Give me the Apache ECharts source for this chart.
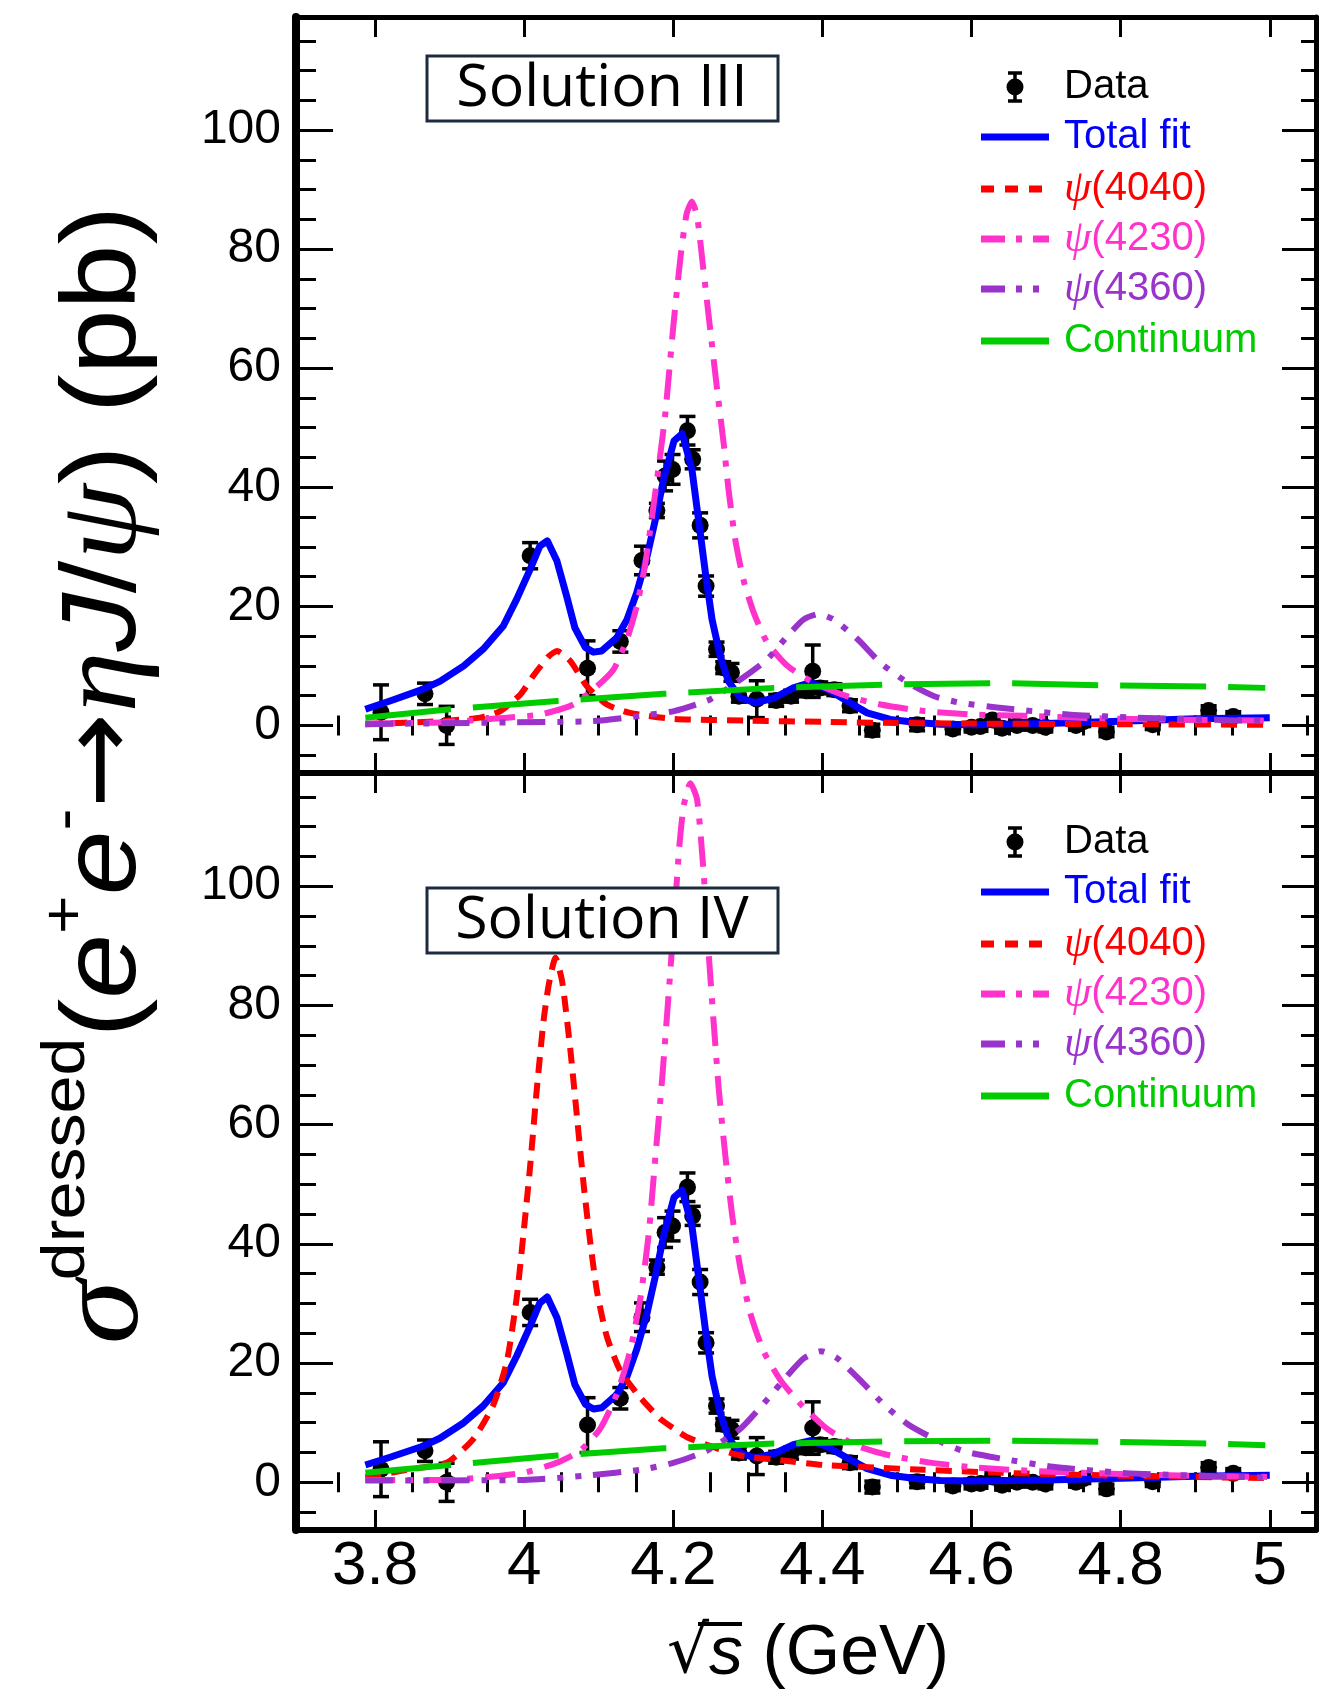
<!DOCTYPE html>
<html><head><meta charset="utf-8">
<script src="https://cdn.jsdelivr.net/npm/echarts@6/dist/echarts.min.js"></script>
<style>html,body{margin:0;padding:0;background:#fff}#c{width:1326px;height:1695px}</style>
</head><body><div id="c"></div>
<script>
// ---------- data ----------
const xMajorTicks = [3.8, 4.0, 4.2, 4.4, 4.6, 4.8, 5.0];
const xMinorTicks = [3.75, 3.85, 3.9, 3.95, 4.05, 4.1, 4.15, 4.25, 4.3, 4.35, 4.45, 4.5, 4.55, 4.65, 4.7, 4.75, 4.85, 4.9, 4.95, 5.05];
const yMajorTicks = [0, 20, 40, 60, 80, 100];
const yMinorTicks = [-5, 5, 10, 15, 25, 30, 35, 45, 50, 55, 65, 70, 75, 85, 90, 95, 105, 110, 115];

const dataX   = [3.808, 3.867, 3.896, 4.008, 4.085, 4.129, 4.158, 4.178, 4.189, 4.199, 4.219, 4.226, 4.236, 4.244, 4.258, 4.267, 4.278, 4.288, 4.312, 4.338, 4.358, 4.378, 4.387, 4.397, 4.416, 4.437, 4.467, 4.527, 4.575, 4.600, 4.612, 4.628, 4.641, 4.661, 4.682, 4.699, 4.740, 4.750, 4.781, 4.843, 4.918, 4.951];
const dataY   = [2.2, 5.3, 0.0, 28.5, 9.6, 14.1, 27.7, 36.1, 41.9, 43.0, 49.5, 44.7, 33.6, 23.4, 12.8, 9.7, 8.9, 4.9, 4.4, 4.2, 4.9, 5.8, 9.1, 6.3, 6.0, 3.3, -0.8, 0.1, -0.6, -0.3, -0.2, 0.9, -0.5, 0.0, 0.0, -0.3, 0.0, 0.6, -1.1, 0.1, 2.5, 1.5];
const dataErr = [4.6, 1.8, 3.2, 2.2, 4.6, 1.8, 2.4, 1.2, 2.5, 2.5, 2.4, 1.6, 2.1, 1.7, 1.2, 1.0, 1.5, 1.0, 3.1, 1.0, 1.0, 1.0, 4.4, 1.0, 1.0, 1.0, 1.0, 1.0, 0.8, 0.8, 0.8, 0.8, 0.8, 0.8, 0.8, 0.8, 0.8, 0.8, 0.8, 0.8, 0.8, 0.8];

// Solution III (top panel)
const fitTop = [[3.787,2.7],[3.820,4.1],[3.863,6.0],[3.887,7.4],[3.919,10.0],[3.945,12.8],[3.972,16.7],[3.990,21.2],[4.008,26.2],[4.021,30.1],[4.031,31.0],[4.044,27.6],[4.057,21.7],[4.068,16.4],[4.082,13.1],[4.093,12.3],[4.104,12.5],[4.124,14.7],[4.138,17.8],[4.151,22.3],[4.165,28.5],[4.176,34.6],[4.187,41.3],[4.201,47.8],[4.212,49.0],[4.225,43.0],[4.234,34.4],[4.243,25.7],[4.252,17.8],[4.263,11.6],[4.274,7.4],[4.290,4.6],[4.310,3.8],[4.335,4.6],[4.361,6.3],[4.384,7.2],[4.406,6.1],[4.433,4.1],[4.460,2.1],[4.491,1.0],[4.527,0.5],[4.558,0.2],[4.603,0.1],[4.700,0.3],[4.800,0.7],[4.900,1.1],[5.000,1.3]];
const psi4040Top = [[3.787,0.2],[3.887,0.7],[3.941,1.3],[3.968,2.4],[3.995,5.2],[4.012,8.3],[4.033,11.6],[4.044,12.5],[4.062,10.8],[4.084,6.6],[4.111,3.5],[4.142,2.1],[4.200,1.1],[4.300,0.8],[4.400,0.6],[4.500,0.4],[4.600,0.3],[4.800,0.2],[5.000,0.1]];
const psi4230Top = [[3.787,0.3],[3.887,0.5],[3.977,1.3],[4.021,1.8],[4.066,3.5],[4.098,6.6],[4.120,9.4],[4.138,14.5],[4.151,20.0],[4.162,26.8],[4.171,34.6],[4.180,43.0],[4.189,52.0],[4.200,67.0],[4.210,79.0],[4.218,86.0],[4.225,88.0],[4.232,85.5],[4.240,77.0],[4.250,66.0],[4.259,56.2],[4.268,46.9],[4.274,39.7],[4.283,31.3],[4.294,24.5],[4.308,18.9],[4.326,13.9],[4.353,10.0],[4.388,7.2],[4.433,4.9],[4.478,3.5],[4.536,2.4],[4.603,1.8],[4.670,1.6],[4.795,1.1],[4.992,0.8]];
const psi4360Top = [[3.787,0.2],[3.977,0.5],[4.090,0.7],[4.156,1.6],[4.201,2.4],[4.250,4.4],[4.290,7.7],[4.326,11.1],[4.353,15.0],[4.375,17.8],[4.395,18.7],[4.415,17.8],[4.447,14.5],[4.478,10.5],[4.514,7.2],[4.550,4.9],[4.585,3.8],[4.634,3.0],[4.733,1.8],[4.822,1.3],[4.992,0.7]];
const contTop = [[3.787,1.3],[3.901,2.7],[4.044,4.1],[4.187,5.3],[4.335,6.3],[4.499,6.9],[4.639,7.1],[4.786,6.7],[4.929,6.5],[4.994,6.3]];

// Solution IV (bottom panel)
const fitBot = [[3.787,2.9],[3.820,4.2],[3.863,6.0],[3.887,7.4],[3.919,10.0],[3.945,12.8],[3.972,16.7],[3.990,21.2],[4.008,26.2],[4.021,30.1],[4.031,31.1],[4.044,27.6],[4.057,21.7],[4.068,16.4],[4.082,13.1],[4.093,12.3],[4.104,12.5],[4.124,14.7],[4.138,17.8],[4.151,22.3],[4.165,28.5],[4.176,34.6],[4.187,41.3],[4.201,47.8],[4.212,49.0],[4.225,43.0],[4.234,34.4],[4.243,25.7],[4.252,17.8],[4.263,11.6],[4.274,7.4],[4.290,4.9],[4.310,4.1],[4.335,4.8],[4.361,6.3],[4.384,7.0],[4.406,6.0],[4.433,4.1],[4.460,2.3],[4.491,1.2],[4.527,0.6],[4.558,0.3],[4.603,0.2],[4.700,0.4],[4.800,0.7],[4.900,1.0],[5.000,1.2]];
const psi4040Bot = [[3.787,0.8],[3.843,2.1],[3.896,3.3],[3.932,7.3],[3.959,13.1],[3.977,20.4],[3.990,31.0],[3.999,41.6],[4.008,53.0],[4.017,66.0],[4.026,77.4],[4.033,83.5],[4.042,88.0],[4.051,84.0],[4.062,72.5],[4.071,61.1],[4.080,49.7],[4.089,39.9],[4.098,31.8],[4.111,24.4],[4.129,18.7],[4.156,14.2],[4.183,10.6],[4.201,9.0],[4.218,7.6],[4.245,6.3],[4.290,4.5],[4.344,3.7],[4.402,2.9],[4.469,2.5],[4.536,2.1],[4.639,1.6],[4.800,1.1],[5.000,0.7]];
const psi4230Bot = [[3.787,0.4],[3.896,0.4],[3.999,1.6],[4.044,3.3],[4.075,5.3],[4.102,9.0],[4.124,14.7],[4.142,22.0],[4.156,31.0],[4.167,41.6],[4.176,54.6],[4.185,67.6],[4.194,82.3],[4.203,97.7],[4.208,106.5],[4.214,113.5],[4.223,117.3],[4.232,114.5],[4.241,101.8],[4.247,89.6],[4.254,77.4],[4.261,66.0],[4.270,54.6],[4.279,44.8],[4.290,35.9],[4.303,28.5],[4.321,22.0],[4.344,17.1],[4.371,13.1],[4.406,9.0],[4.447,6.1],[4.491,4.5],[4.545,3.3],[4.603,2.5],[4.700,1.8],[4.800,1.4],[4.900,1.1],[5.000,0.9]];
const psi4360Bot = [[3.787,0.3],[4.000,0.4],[4.089,1.2],[4.156,2.1],[4.201,3.3],[4.245,5.3],[4.290,9.0],[4.326,13.9],[4.353,17.9],[4.375,20.8],[4.398,22.0],[4.420,20.8],[4.451,17.1],[4.482,13.1],[4.514,9.8],[4.550,7.3],[4.590,5.2],[4.639,4.0],[4.709,2.6],[4.813,1.5],[4.993,0.8]];
const contBot = [[3.787,1.6],[3.901,2.9],[4.044,4.5],[4.187,5.7],[4.335,6.5],[4.499,6.9],[4.639,7.0],[4.786,6.8],[4.929,6.5],[4.994,6.2]];

const legendNames = ['Data', 'Total fit', 'ψ(4040)', 'ψ(4230)', 'ψ(4360)', 'Continuum'];
const panelLabels = ['Solution III', 'Solution IV'];

// ---------- styles ----------
const X_MIN = 3.694, X_MAX = 5.062, Y_MIN = -8, Y_MAX = 119;
const C = { fit: '#0000ff', r: '#ff0000', m: '#ff33cc', p: '#9933cc', g: '#00cc00' };
const DASH = { r: [16, 10], m: [30, 12, 6, 12], p: [28, 12, 6, 12, 6, 12], g: [86, 22] };
const GRIDS = [
  { left: 296, top: 17, width: 1020, height: 756 },
  { left: 296, top: 773, width: 1020, height: 757 }
];
const LBL_FONT = "'Liberation Sans', Arial, sans-serif";

function xAxes(g, labels) {
  const base = { type: 'value', gridIndex: g, min: X_MIN, max: X_MAX, splitLine: { show: false } };
  const tk = (len, vals) => ({ show: true, inside: true, length: len, customValues: vals, lineStyle: { color: '#000', width: 3 } });
  return [
    Object.assign({}, base, { position: 'bottom', axisLine: { show: true, onZero: false, lineStyle: { color: '#000', width: 6 } }, axisTick: tk(20, xMajorTicks),
      axisLabel: { show: labels, customValues: xMajorTicks, formatter: v => String(+(+v).toFixed(1)), fontSize: 62, fontFamily: LBL_FONT, color: '#000', margin: 6 } }),
    Object.assign({}, base, { position: 'bottom', axisLine: { show: false }, axisTick: tk(10, xMinorTicks), axisLabel: { show: false } }),
    Object.assign({}, base, { position: 'top', axisLine: { show: true, onZero: false, lineStyle: { color: '#000', width: 5 } }, axisTick: tk(20, xMajorTicks), axisLabel: { show: false } }),
    Object.assign({}, base, { position: 'top', axisLine: { show: false }, axisTick: tk(10, xMinorTicks), axisLabel: { show: false } })
  ];
}
function yAxes(g) {
  const base = { type: 'value', gridIndex: g, min: Y_MIN, max: Y_MAX, splitLine: { show: false } };
  const tk = (len, vals) => ({ show: true, inside: true, length: len, customValues: vals, lineStyle: { color: '#000', width: 3 } });
  return [
    Object.assign({}, base, { position: 'left', axisLine: { show: true, onZero: false, lineStyle: { color: '#000', width: 8 } }, axisTick: tk(37, yMajorTicks),
      axisLabel: { show: true, customValues: yMajorTicks, fontSize: 48, fontFamily: LBL_FONT, color: '#000', margin: 15 } }),
    Object.assign({}, base, { position: 'left', axisLine: { show: false }, axisTick: tk(20, yMinorTicks), axisLabel: { show: false } }),
    Object.assign({}, base, { position: 'right', axisLine: { show: true, onZero: false, lineStyle: { color: '#000', width: 5 } }, axisTick: tk(34, yMajorTicks), axisLabel: { show: false } }),
    Object.assign({}, base, { position: 'right', axisLine: { show: false }, axisTick: tk(15, yMinorTicks), axisLabel: { show: false } })
  ];
}

function renderErr(params, api) {
  const x = api.value(0), y = api.value(1), e = api.value(2);
  const c = api.coord([x, y]), t = api.coord([x, y + e]), b = api.coord([x, y - e]);
  const cap = 8, st = { stroke: '#000', lineWidth: 3.5 };
  return { type: 'group', children: [
    { type: 'line', shape: { x1: c[0], y1: t[1], x2: c[0], y2: b[1] }, style: st },
    { type: 'line', shape: { x1: c[0] - cap, y1: t[1], x2: c[0] + cap, y2: t[1] }, style: st },
    { type: 'line', shape: { x1: c[0] - cap, y1: b[1], x2: c[0] + cap, y2: b[1] }, style: st },
    { type: 'circle', shape: { cx: c[0], cy: c[1], r: 8.5 }, style: { fill: '#000' } }
  ] };
}

function panelSeries(p, fit, r, m, pu, g) {
  const ax = { xAxisIndex: p * 4, yAxisIndex: p * 4 };
  const line = (data, color, width, type, z, smooth) => Object.assign({
    type: 'line', data, showSymbol: false, symbol: 'none', smooth: smooth, clip: true, z,
    lineStyle: { color, width, type, cap: 'butt', join: 'round' }, silent: true
  }, ax);
  return [
    Object.assign({ type: 'custom', renderItem: renderErr, data: dataX.map((x, i) => [x, dataY[i], dataErr[i]]), encode: { x: 0, y: 1 }, z: 2, clip: true }, ax),
    line(fit, C.fit, 7, 'solid', 3, false),
    line(r, C.r, 6, DASH.r, 4, 0.2),
    line(m, C.m, 6, DASH.m, 5, 0.2),
    line(pu, C.p, 6, DASH.p, 6, 0.2),
    line(g, C.g, 6, DASH.g, 7, false)
  ];
}

// ---------- graphics (legend, labels, titles) ----------
const LEG_FONT = "'Liberation Sans', Arial, sans-serif";
function legendGraphics(dy) {
  const ys = [87, 137, 189, 239, 289, 341].map(v => v + dy);
  const x1 = 981, x2 = 1049, tx = 1064, mx = 1015;
  const els = [];
  els.push({ type: 'line', shape: { x1: mx, y1: ys[0] - 14, x2: mx, y2: ys[0] + 14 }, style: { stroke: '#000', lineWidth: 3.5 } });
  els.push({ type: 'line', shape: { x1: mx - 7, y1: ys[0] - 14, x2: mx + 7, y2: ys[0] - 14 }, style: { stroke: '#000', lineWidth: 3.5 } });
  els.push({ type: 'line', shape: { x1: mx - 7, y1: ys[0] + 14, x2: mx + 7, y2: ys[0] + 14 }, style: { stroke: '#000', lineWidth: 3.5 } });
  els.push({ type: 'circle', shape: { cx: mx, cy: ys[0], r: 8.5 }, style: { fill: '#000' } });
  const lines = [[C.fit, null], [C.r, [13, 11]], [C.m, [24, 11, 6, 11]], [C.p, [24, 11, 6, 11, 6, 11]], [C.g, null]];
  lines.forEach((l, i) => {
    els.push({ type: 'line', shape: { x1, y1: ys[i + 1], x2, y2: ys[i + 1] }, style: { stroke: l[0], lineWidth: 7, lineDash: l[1] || null } });
  });
  const cols = ['#000', C.fit, C.r, C.m, C.p, C.g];
  legendNames.forEach((n, i) => {
    let text = n, rich = {};
    if (n.startsWith('ψ')) {
      text = '{g|ψ}{t|' + n.slice(1) + '}';
      rich = { g: { fontFamily: "'Liberation Serif', serif", fontStyle: 'italic', fontSize: 44, fill: cols[i] }, t: { fontFamily: LEG_FONT, fontSize: 40, fill: cols[i] } };
    }
    els.push({ type: 'text', x: tx, y: ys[i], style: { text, rich, fill: cols[i], fontFamily: LEG_FONT, fontSize: 40, align: 'left', verticalAlign: 'middle' } });
  });
  return els;
}
function boxGraphics(y, label) {
  return [
    { type: 'rect', shape: { x: 427, y: y, width: 351, height: 65 }, style: { fill: '#fff', stroke: '#1d2b3e', lineWidth: 3 }, z: 50 },
    { type: 'text', x: 602, y: y + 33, style: { text: label, fontFamily: "'Open Sans', sans-serif", fontSize: 59, fill: '#000', align: 'center', verticalAlign: 'middle' }, z: 51 }
  ];
}

const yTitle = {
  type: 'text', x: 106, y: 775, rotation: Math.PI / 2, scaleX: 1.1,
  style: {
    text: '{s|σ}{sup|dressed}{m|(}{i|e}{sup2|+}{i|e}{sup2|-}{a|→}{g|η}{i|J}{m|/}{g|ψ}{m|) (pb)}',
    align: 'center', verticalAlign: 'middle', fill: '#000',
    rich: {
      s: { fontFamily: "'Liberation Serif', serif", fontStyle: 'italic', fontSize: 118, lineHeight: 140, fill: '#000' },
      sup: { fontFamily: "'Liberation Sans', sans-serif", fontSize: 62, lineHeight: 62, verticalAlign: 'top', fill: '#000' },
      sup2: { fontFamily: "'Liberation Sans', sans-serif", fontSize: 60, lineHeight: 60, verticalAlign: 'top', fill: '#000' },
      m: { fontFamily: "'Liberation Sans', sans-serif", fontSize: 106, lineHeight: 140, fill: '#000' },
      i: { fontFamily: "'Liberation Sans', sans-serif", fontStyle: 'italic', fontSize: 106, lineHeight: 140, fill: '#000' },
      a: { fontFamily: "'DejaVu Sans', sans-serif", fontSize: 104, lineHeight: 140, fill: '#000' },
      g: { fontFamily: "'Liberation Serif', serif", fontStyle: 'italic', fontSize: 112, lineHeight: 140, fill: '#000' }
    }
  }
};
const xTitle = {
  type: 'text', x: 808, y: 1655,
  style: {
    text: '{r|√}{s|s}{t| (GeV)}', align: 'center', verticalAlign: 'middle', fill: '#000',
    rich: {
      r: { fontFamily: "'DejaVu Sans', sans-serif", fontSize: 66, fill: '#000' },
      s: { fontFamily: "'Liberation Sans', sans-serif", fontStyle: 'italic', fontSize: 68, fill: '#000' },
      t: { fontFamily: LBL_FONT, fontSize: 70, fill: '#000' }
    }
  }
};
const radicalBar = { type: 'line', shape: { x1: 698, y1: 1624, x2: 742, y2: 1624 }, style: { stroke: '#000', lineWidth: 4 } };

const chart = echarts.init(document.getElementById('c'), null, { renderer: 'canvas' });
chart.setOption({
  animation: false,
  backgroundColor: '#fff',
  grid: GRIDS,
  xAxis: xAxes(0, false).concat(xAxes(1, true)),
  yAxis: yAxes(0).concat(yAxes(1)),
  series: panelSeries(0, fitTop, psi4040Top, psi4230Top, psi4360Top, contTop)
    .concat(panelSeries(1, fitBot, psi4040Bot, psi4230Bot, psi4360Bot, contBot)),
  graphic: [].concat(legendGraphics(0), legendGraphics(755), boxGraphics(56, panelLabels[0]), boxGraphics(888, panelLabels[1]), [yTitle, xTitle, radicalBar])
});
</script></body></html>
